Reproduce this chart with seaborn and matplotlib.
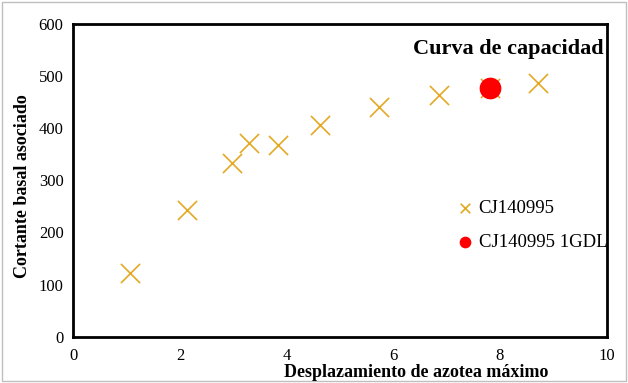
import matplotlib
matplotlib.use("Agg")
import matplotlib.pyplot as plt
import seaborn as sns
import pandas as pd
from matplotlib.patches import Rectangle

# Data
desplazamiento = [1.06, 2.13, 2.98, 3.30, 3.84, 4.62, 5.73, 6.86, 7.82, 8.71]
cortante = [122, 243, 333, 372, 368, 406, 440, 464, 477, 486]
desp_1gdl = [7.82]
cort_1gdl = [477]
x_ticks = [0, 2, 4, 6, 8, 10]
y_ticks = [0, 100, 200, 300, 400, 500, 600]

sns.set_style("white", {"text.color": "black", "xtick.color": "black",
                        "ytick.color": "black", "axes.labelcolor": "black"})
plt.rcParams['font.family'] = ['Liberation Serif', 'DejaVu Serif']

fig = plt.figure(figsize=(6.28, 3.83), dpi=100)
ax = fig.add_axes([0.1166, 0.121, 0.8494, 0.8163])

df = pd.DataFrame({"x": desplazamiento, "y": cortante})
df2 = pd.DataFrame({"x": desp_1gdl, "y": cort_1gdl})

sns.scatterplot(data=df, x="x", y="y", marker="x", s=190, color="#E5A823",
                linewidth=1.2, ax=ax, label="CJ140995", zorder=3)
sns.scatterplot(data=df2, x="x", y="y", marker="o", s=210, color="#FF0000",
                edgecolor="#FF0000", ax=ax, label="CJ140995 1GDL", zorder=4)

ax.set_xlim(0, 10)
ax.set_ylim(0, 600)
ax.set_xticks(x_ticks)
ax.set_yticks(y_ticks)
ax.tick_params(axis="x", length=0, labelsize=12, pad=8, labelcolor="black")
ax.tick_params(axis="y", length=0, labelsize=12, pad=7, labelcolor="black")
for s in ax.spines.values():
    s.set_linewidth(2)
    s.set_color("black")

ax.set_xlabel("")
ax.set_ylabel("")
fig.text(0.662, 0.028, "Desplazamiento de azotea máximo", ha="center", va="center",
         fontsize=13, fontweight="bold", color="black")
fig.text(0.036, 0.513, "Cortante basal asociado", ha="center", va="center",
         rotation=90, fontsize=13, fontweight="bold", color="black")
ax.text(0.995, 0.92, "Curva de capacidad", transform=ax.transAxes, ha="right",
        va="center", fontsize=16, fontweight="bold", color="black")

leg = ax.legend(loc="center left", bbox_to_anchor=(0.686, 0.355), frameon=False,
                fontsize=13.5, handletextpad=-0.3, labelspacing=0.9, markerscale=0.5,
                borderaxespad=0, labelcolor="black")

# light chart-area border like the original
fig.patches.append(Rectangle((0.003, 0.005), 0.994, 0.99, transform=fig.transFigure,
                             fill=False, edgecolor="#BFBFBF", linewidth=1))

fig.savefig("out.png", dpi=100)
